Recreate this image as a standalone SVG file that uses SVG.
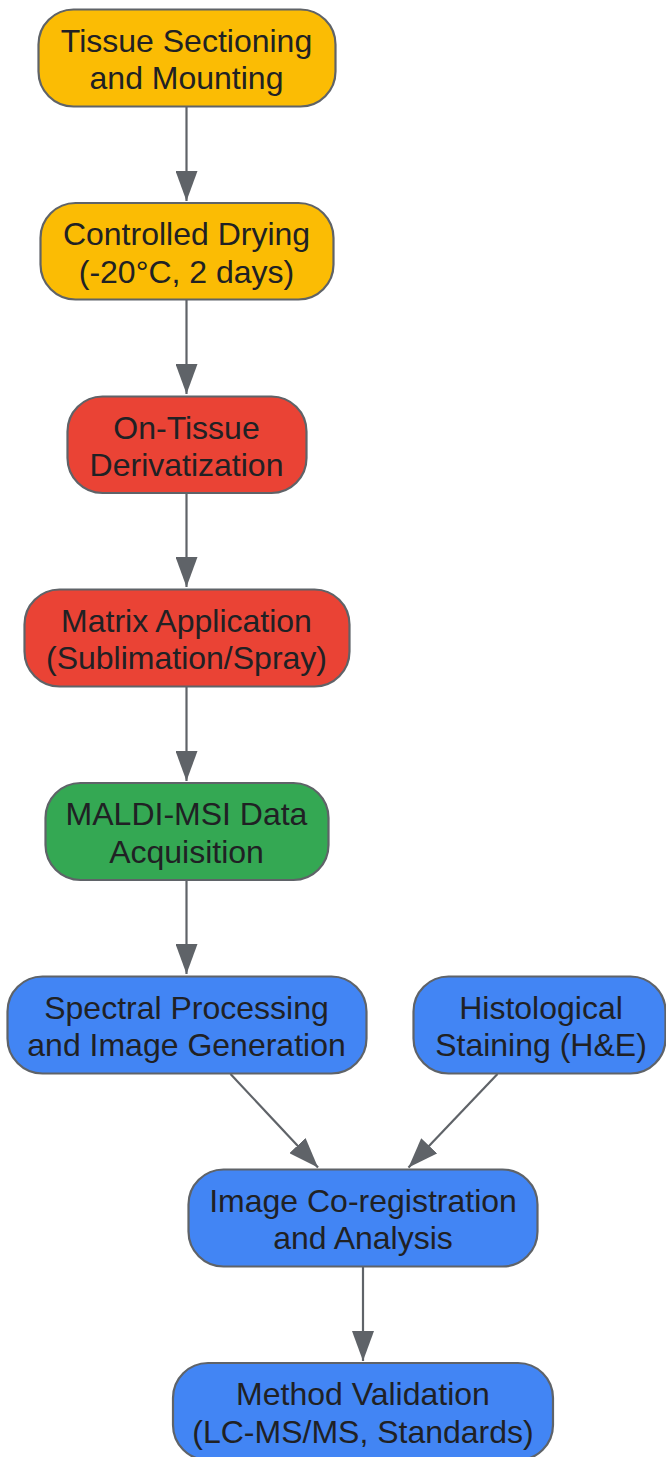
<svg xmlns="http://www.w3.org/2000/svg" width="666" height="1457" viewBox="0 0 666 1457">
<style>
.n rect{stroke:#5f6368;stroke-width:2.2}
.y{fill:#fbbc04}.r{fill:#ea4335}.g{fill:#34a853}.b{fill:#4285f4}
text{font-family:"Liberation Sans",Arial,sans-serif;font-size:32px;fill:#202124;text-anchor:middle}
.e line{stroke:#5f6368;stroke-width:2.2;fill:none}
</style>
<defs>
<marker id="ah" viewBox="0 0 30 22" refX="30" refY="11" markerWidth="30" markerHeight="22" markerUnits="userSpaceOnUse" orient="auto">
<path d="M0,0 L30,11 L0,22 z" fill="#5f6368"/>
</marker>
</defs>
<g class="e" id="connectors">
<line x1="186.5" y1="106" x2="186.5" y2="201" marker-end="url(#ah)"/>
<line x1="186.5" y1="299" x2="186.5" y2="394" marker-end="url(#ah)"/>
<line x1="186.5" y1="493" x2="186.5" y2="587" marker-end="url(#ah)"/>
<line x1="186.5" y1="686" x2="186.5" y2="781" marker-end="url(#ah)"/>
<line x1="186.5" y1="880" x2="186.5" y2="974" marker-end="url(#ah)"/>
<line x1="230.5" y1="1074" x2="318" y2="1167.5" marker-end="url(#ah)"/>
<line x1="497.5" y1="1074" x2="408.5" y2="1167.5" marker-end="url(#ah)"/>
<line x1="363" y1="1267" x2="363" y2="1361" marker-end="url(#ah)"/>
</g>
<g class="n" id="n1"><rect class="y" x="38.5" y="9.5" width="297" height="97" rx="35"/><text x="186.5" y="51.5">Tissue Sectioning</text><text x="186.5" y="89">and Mounting</text></g>
<g class="n" id="n2"><rect class="y" x="40.5" y="203" width="293" height="96.5" rx="35"/><text x="186.5" y="245">Controlled Drying</text><text x="186.5" y="282.5">(-20°C, 2 days)</text></g>
<g class="n" id="n3"><rect class="r" x="67.5" y="396.5" width="239" height="96.5" rx="35"/><text x="186.5" y="438.5">On-Tissue</text><text x="186.5" y="476">Derivatization</text></g>
<g class="n" id="n4"><rect class="r" x="24.5" y="589.5" width="325" height="97" rx="35"/><text x="186.5" y="631.5">Matrix Application</text><text x="186.5" y="669">(Sublimation/Spray)</text></g>
<g class="n" id="n5"><rect class="g" x="45.5" y="783" width="283" height="97" rx="35"/><text x="186.5" y="825">MALDI-MSI Data</text><text x="186.5" y="862.5">Acquisition</text></g>
<g class="n" id="n6"><rect class="b" x="7.5" y="976.5" width="359" height="97" rx="35"/><text x="186.5" y="1018.5">Spectral Processing</text><text x="186.5" y="1056">and Image Generation</text></g>
<g class="n" id="n7"><rect class="b" x="413.5" y="976.5" width="252" height="97" rx="35"/><text x="541" y="1018.5">Histological</text><text x="541" y="1056">Staining (H&amp;E)</text></g>
<g class="n" id="n8"><rect class="b" x="188.5" y="1169.5" width="349" height="97" rx="35"/><text x="363" y="1211.5">Image Co-registration</text><text x="363" y="1249">and Analysis</text></g>
<g class="n" id="n9"><rect class="b" x="173" y="1363" width="380" height="97" rx="35"/><text x="363" y="1405">Method Validation</text><text x="363" y="1442.5">(LC-MS/MS, Standards)</text></g>
</svg>
